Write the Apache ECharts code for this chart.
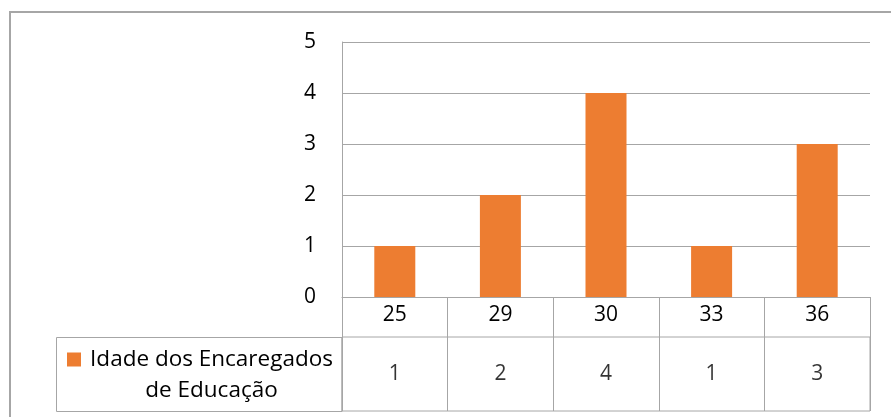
<!DOCTYPE html>
<html>
<head>
<meta charset="utf-8">
<script src="https://cdn.jsdelivr.net/npm/echarts@6/dist/echarts.min.js"></script>
<style>
  html, body { margin: 0; padding: 0; background: #ffffff; }
  #chart { width: 891px; height: 417px; }
</style>
</head>
<body>
<div id="chart"></div>
<script>
// Ages of the guardians and how many of each
const categories = ['25', '29', '30', '33', '36'];
const counts = [1, 2, 4, 1, 3];
const seriesName = 'Idade dos Encaregados de Educação';
const yTicks = [0, 1, 2, 3, 4, 5];

const LINE = '#a6a6a6';
const TEXT = '#000000';
const FONT = 'Open Sans';
const BAR = '#ED7D31';

const chart = echarts.init(document.getElementById('chart'), null, { renderer: 'canvas' });

chart.setOption({
  animation: false,
  textStyle: { fontFamily: FONT },
  grid: [
    // plot area
    { left: 342, top: 42, width: 528, height: 255 },
    // data-table value row
    { left: 342, top: 337, width: 528, height: 74, show: true, borderColor: LINE, borderWidth: 1 }
  ],
  legend: {
    left: 62,
    top: 343,
    icon: 'rect',
    itemWidth: 14,
    itemHeight: 14,
    selectedMode: false,
    data: [seriesName],
    formatter: function () {
      return '{a|Idade dos Encaregados}\n{a|de Educação}';
    },
    textStyle: {
      fontFamily: FONT,
      fontSize: 22.5,
      color: TEXT,
      padding: [31, 0, 0, 0],
      rich: {
        a: { width: 251, align: 'center', fontSize: 22.5, lineHeight: 31, fontFamily: FONT, color: TEXT }
      }
    }
  },
  xAxis: [
    {
      type: 'category',
      gridIndex: 0,
      data: categories,
      axisLine: { show: true, lineStyle: { color: LINE, width: 1 } },
      axisTick: { show: true, length: 40, interval: 0, lineStyle: { color: LINE } },
      axisLabel: { fontSize: 21, color: TEXT, margin: 8, interval: 0 },
      splitLine: { show: false }
    },
    {
      type: 'category',
      gridIndex: 1,
      data: categories,
      axisLine: { show: false },
      axisTick: { show: true, inside: true, length: 74, interval: 0, lineStyle: { color: LINE } },
      axisLabel: { show: false },
      splitLine: { show: false }
    }
  ],
  yAxis: [
    {
      type: 'value',
      gridIndex: 0,
      min: yTicks[0],
      max: yTicks[yTicks.length - 1],
      interval: 1,
      axisLine: { show: true, lineStyle: { color: LINE, width: 1 } },
      axisTick: { show: false },
      axisLabel: { fontSize: 21, color: TEXT, margin: 26 },
      splitLine: { show: true, lineStyle: { color: LINE, width: 1 } }
    },
    {
      type: 'value',
      gridIndex: 1,
      min: 0,
      max: 1,
      show: false,
      splitLine: { show: false }
    }
  ],
  graphic: [
    // outer chart frame
    { type: 'rect', shape: { x: 10, y: 12, width: 900, height: 430 },
      style: { fill: 'none', stroke: LINE, lineWidth: 2 }, z: -1 },
    // legend key cell of the data table
    { type: 'rect', shape: { x: 56.5, y: 337.5, width: 285.5, height: 74 },
      style: { fill: 'none', stroke: LINE, lineWidth: 1 } }
  ],
  series: [
    {
      name: seriesName,
      type: 'bar',
      xAxisIndex: 0,
      yAxisIndex: 0,
      data: counts,
      barWidth: 41,
      itemStyle: { color: BAR }
    },
    {
      name: 'tabela',
      type: 'scatter',
      xAxisIndex: 1,
      yAxisIndex: 1,
      symbolSize: 0,
      data: counts.map(function (v, i) { return [categories[i], 0.5, v]; }),
      label: {
        show: true,
        position: 'inside',
        fontSize: 21,
        color: TEXT,
        fontFamily: FONT,
        formatter: function (p) { return String(p.value[2]); }
      },
      silent: true
    }
  ]
});
</script>
</body>
</html>
